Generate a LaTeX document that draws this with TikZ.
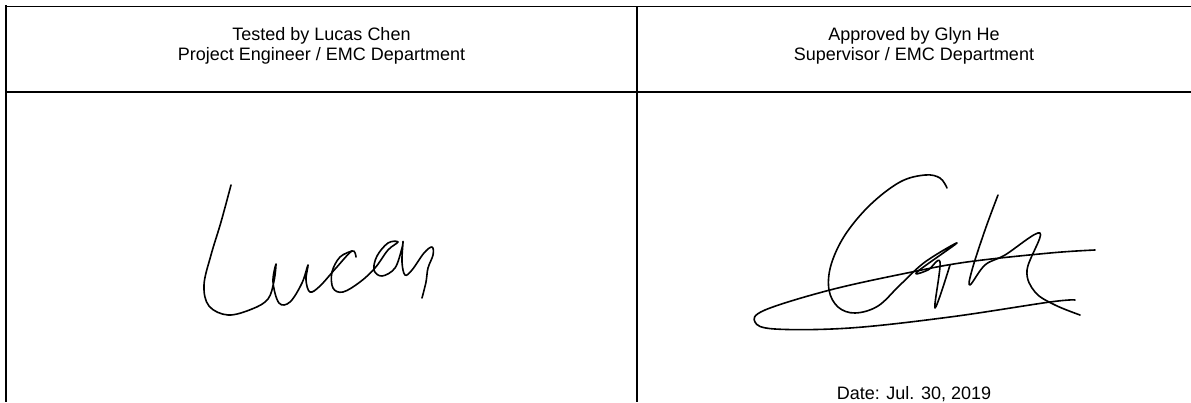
\documentclass[tikz,border=0pt]{standalone}
\usepackage{fontspec}
\setmainfont{Liberation Sans}
\usetikzlibrary{positioning}
\tikzstyle{rule} = [line width=2pt]
\tikzstyle{thinrule} = [line width=1pt]
\tikzstyle{hdr} = [align=center, font=\fontsize{18}{20.5}\selectfont, inner sep=0pt]
\tikzstyle{sig} = [line width=1.6pt, line cap=round, line join=round]

\begin{document}
\begin{tikzpicture}[x=1pt, y=-1pt]
    \useasboundingbox (0,0) rectangle (1191,402);
    % table rules
    \draw [thinrule] (5,6) -- (1191,6);
    \draw [rule] (6,5) -- (6,402);
    \draw [rule] (6,92) -- (1191,92);
    \draw [rule] (637,6) -- (637,402);
    % header cells
    \node (tested) [hdr] at (321.5,46) {Tested by Lucas Chen\\Project Engineer / EMC Department};
    \node (approved) [hdr] at (914,46) {Approved by Glyn He\\Supervisor / EMC Department};
    \node (date) [hdr, anchor=base] at (914,399) {Date: Jul. 30, 2019};
    % signature Lucas
    \draw [sig] plot[smooth, tension=0.6] coordinates {(231,185) (221,222) (211,255) (204,285) (209,306) (228,315) (252,309) (268,299) (274,281) (276,264) (273,282) (279,303) (290,302) (302,283) (308,265) (306,280) (310,292) (320,286) (336,268) (352,251) (356,257)};
    \draw [sig] plot[smooth, tension=0.6] coordinates {(352,251) (340,257) (332,272) (333,288) (343,292) (360,282) (375,268) (388,250) (398,242) (388,243) (377,256) (374,270) (382,276) (395,268) (402,248) (403,242) (402,262) (405,275) (412,270) (424,253) (432,247) (433,255) (428,268) (426,282) (422,298)};
    % signature Glyn
    \draw [sig] plot[smooth, tension=0.6] coordinates {(947,188) (940,178) (925,175) (900,182) (870,205) (845,235) (831,265) (829,290) (838,307) (855,313) (878,306) (900,285) (925,262) (957,243) (917,272) (928,270) (940,262) (935,308) (950,265)};
    \draw [sig] plot[smooth, tension=0.6] coordinates {(998,195) (985,230) (972,270) (970,285) (985,265) (1005,255) (1040,233) (1027,270) (1035,292) (1055,305) (1080,315)};
    \draw [sig] plot[smooth, tension=0.6] coordinates {(1095,250) (1050,253) (967,262) (907,273) (830,290) (765,310) (755,322) (775,329) (850,328) (950,317) (1050,302) (1075,300)};
\end{tikzpicture}
\end{document}
